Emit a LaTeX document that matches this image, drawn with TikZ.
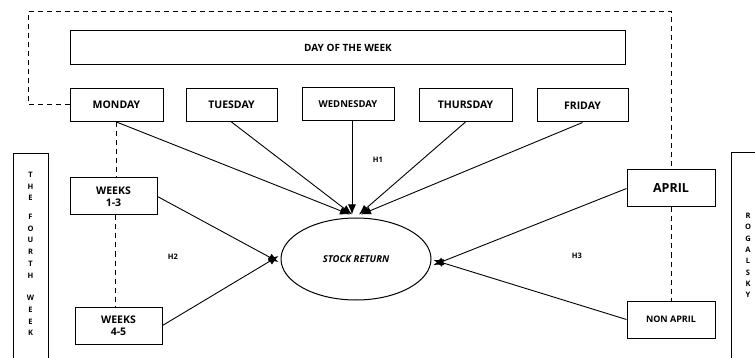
\documentclass[tikz,border=0pt]{standalone}
\usepackage{fontspec}
\setmainfont{Open Sans}
\usetikzlibrary{shapes.geometric,arrows.meta}
\begin{document}
\begin{tikzpicture}[x=1pt,y=-1pt,
  box/.style={draw,line width=1pt,rectangle,inner sep=0pt,align=center},
  daybox/.style={box,minimum width=92pt,minimum height=33pt,font=\bfseries\fontsize{10.5}{12}\selectfont},
  weekbox/.style={box,minimum width=87pt,minimum height=37pt,font=\bfseries\fontsize{10.5}{12.5}\selectfont},
  mbox/.style={box,minimum width=88pt,minimum height=37pt},
  dsh/.style={line width=1pt,dash pattern=on 5pt off 4pt},
  arr/.style={line width=0.9pt,-{Latex[length=10pt,width=8pt]}},
  hlab/.style={font=\bfseries\fontsize{7.5}{8}\selectfont},
  vlet/.style={font=\bfseries\fontsize{7.5}{11.7}\selectfont,align=center,inner sep=0pt}
]
\clip (0,0) rectangle (755,358);
\fill[white] (0,0) rectangle (755,358);
% top box
\node[box,minimum width=555pt,minimum height=34pt,font=\bfseries\fontsize{10}{11}\selectfont] (dow) at (348,48) {DAY OF THE WEEK};
% days
\node[daybox,minimum width=93pt] (mon) at (116.5,105) {MONDAY};
\node[daybox,minimum width=91pt] (tue) at (231.5,105) {TUESDAY};
\node[daybox,font=\bfseries\fontsize{9.5}{10}\selectfont] (wed) at (348,104) {WEDNESDAY};
\node[daybox,minimum width=93pt] (thu) at (465.5,105) {THURSDAY};
\node[daybox,minimum width=91pt] (fri) at (582.5,105.5) {FRIDAY};
% weeks
\node[weekbox] (w13) at (113.5,196.5) {WEEKS\\1-3};
\node[weekbox] (w45) at (118.5,325.5) {WEEKS\\4-5};
% months
\node[mbox,font=\bfseries\fontsize{12.5}{14}\selectfont] (apr) at (671,188.5) {APRIL};
\node[mbox,font=\bfseries\fontsize{9}{10}\selectfont] (nona) at (671,319.5) {NON APRIL};
% stock return
\node[draw,ellipse,line width=1pt,minimum width=150pt,minimum height=82pt,inner sep=0pt,font=\bfseries\itshape\fontsize{9.5}{11}\selectfont] (sr) at (356,259) {STOCK RETURN};
% side boxes
\node[box,minimum width=35pt,minimum height=215pt,anchor=north west] (fw) at (13,153) {};
\node[vlet] (fwt) at (30.5,254) {T\\H\\E\\[7pt]F\\O\\U\\R\\T\\H\\[11pt]W\\E\\E\\K};
\node[box,minimum width=35pt,minimum height=215pt,anchor=north west] (rg) at (731,152) {};
\node[vlet,font=\bfseries\fontsize{7.5}{11.3}\selectfont] (rgt) at (748,255.5) {R\\O\\G\\A\\L\\S\\K\\Y};
% labels
\node[hlab] (h1) at (378,160) {H1};
\node[hlab] (h2) at (173,257) {H2};
\node[hlab] (h3) at (577,256) {H3};
% helper coordinates
\path ([xshift=1.5pt]w13.south) coordinate (w13b);
\path ([xshift=4pt]wed.south) coordinate (wedb);
% dashed frame
\draw[dsh] (mon.west) -| (28,12) -| (apr.north);
\draw[dsh] (mon.south) -- (w13.north -| mon.south);
\draw[dsh] (w13b) -- (w45.north -| w13b);
\draw[dsh] (apr.south) -- (nona.north);
% arrows
\draw[arr] (mon.south) -- ([xshift=-6pt,yshift=3pt]sr.north);
\draw[arr] (tue.south) -- ([xshift=-4pt,yshift=3pt]sr.north);
\draw[arr] (wedb) -- ([yshift=3pt]wedb |- sr.north);
\draw[arr] (thu.south) -- ([xshift=3pt,yshift=3pt]sr.north);
\draw[arr] (fri.south) -- ([xshift=5pt,yshift=3pt]sr.north);
\draw[arr] (w13.east) -- ([xshift=-2pt,yshift=-3pt]sr.west);
\draw[arr] (w45.east) -- ([xshift=-2pt,yshift=3pt]sr.west);
\draw[arr] (apr.west) -- ([xshift=2pt,yshift=-6pt]sr.east);
\draw[arr] (nona.west) -- ([xshift=2pt,yshift=-1pt]sr.east);
\end{tikzpicture}
\end{document}
